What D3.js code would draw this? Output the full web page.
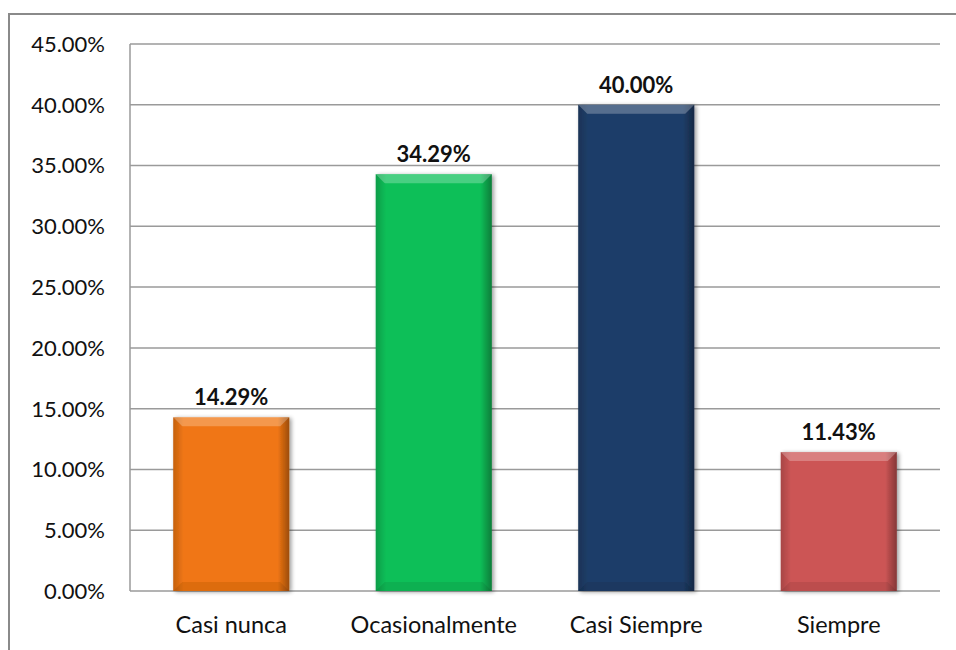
<!DOCTYPE html>
<html>
<head>
<meta charset="utf-8">
<script src="https://cdn.jsdelivr.net/npm/d3@7"></script>
<style>
  html, body { margin: 0; padding: 0; background: #fff; }
  svg { display: block; font-family: Lato, "Open Sans", sans-serif; }
</style>
</head>
<body>
<svg width="956" height="650"></svg>
<script>
const categories = ["Casi nunca", "Ocasionalmente", "Casi Siempre", "Siempre"];
const values = [14.29, 34.29, 40.00, 11.43];
const colors = ["#F07613", "#0CBF58", "#1F3E69", "#CC5555"];
const yTicks = [0, 5, 10, 15, 20, 25, 30, 35, 40, 45];

const plotL = 130, plotR = 940, plotT = 44, plotB = 591;

const svg = d3.select("svg");
const defs = svg.append("defs");

// outer frame (runs off the right and bottom edges)
svg.append("rect")
  .attr("x", 9).attr("y", 14)
  .attr("width", 960).attr("height", 660)
  .attr("fill", "none")
  .attr("stroke", "#8a8a8a")
  .attr("stroke-width", 2);

const x = d3.scaleBand()
  .domain(categories)
  .range([plotL, plotR])
  .paddingInner(0.427)
  .paddingOuter(0.2135);

const y = d3.scaleLinear()
  .domain([0, 45])
  .range([plotB, plotT]);

// grid lines
svg.append("g")
  .selectAll("line")
  .data(yTicks)
  .join("line")
  .attr("x1", plotL).attr("x2", plotR)
  .attr("y1", d => y(d)).attr("y2", d => y(d))
  .attr("stroke", "#9a9a9a")
  .attr("stroke-width", 1.5);

// left axis line
svg.append("line")
  .attr("x1", plotL).attr("x2", plotL)
  .attr("y1", plotT).attr("y2", plotB)
  .attr("stroke", "#9a9a9a")
  .attr("stroke-width", 1.5);

// y tick labels
svg.append("g")
  .selectAll("text")
  .data(yTicks)
  .join("text")
  .attr("x", 105)
  .attr("y", d => y(d))
  .attr("dy", "0.36em")
  .attr("text-anchor", "end")
  .attr("font-size", 22)
  .attr("fill", "#111")
  .text(d => d.toFixed(2) + "%");

// drop shadow
const shadow = defs.append("filter")
  .attr("id", "shadow")
  .attr("x", "-10%").attr("y", "-10%")
  .attr("width", "130%").attr("height", "130%");
shadow.append("feGaussianBlur")
  .attr("in", "SourceAlpha")
  .attr("stdDeviation", 2)
  .attr("result", "blur");
shadow.append("feOffset")
  .attr("dx", 2).attr("dy", 1)
  .attr("result", "off");
shadow.append("feComponentTransfer").append("feFuncA")
  .attr("type", "linear").attr("slope", 0.4);
const fm = shadow.append("feMerge");
fm.append("feMergeNode");
fm.append("feMergeNode").attr("in", "SourceGraphic");

// horizontal shading to darken bar sides
const side = defs.append("linearGradient")
  .attr("id", "side")
  .attr("x1", 0).attr("x2", 1).attr("y1", 0).attr("y2", 0);
side.append("stop").attr("offset", "0%").attr("stop-color", "#000").attr("stop-opacity", 0.18);
side.append("stop").attr("offset", "9%").attr("stop-color", "#000").attr("stop-opacity", 0);
side.append("stop").attr("offset", "90%").attr("stop-color", "#000").attr("stop-opacity", 0);
side.append("stop").attr("offset", "100%").attr("stop-color", "#000").attr("stop-opacity", 0.35);

const bev = 9;
const bars = svg.append("g")
  .selectAll("g")
  .data(values)
  .join("g")
  .attr("filter", "url(#shadow)");

bars.append("rect")
  .attr("x", (d, i) => x(categories[i]))
  .attr("y", d => y(d))
  .attr("width", x.bandwidth())
  .attr("height", d => y(0) - y(d))
  .attr("fill", (d, i) => colors[i]);

bars.append("rect")
  .attr("x", (d, i) => x(categories[i]))
  .attr("y", d => y(d))
  .attr("width", x.bandwidth())
  .attr("height", d => y(0) - y(d))
  .attr("fill", "url(#side)");

// top bevel (lighter)
bars.append("polygon")
  .attr("points", (d, i) => {
    const x0 = x(categories[i]), x1 = x0 + x.bandwidth(), yt = y(d);
    return [[x0, yt], [x1, yt], [x1 - bev, yt + bev], [x0 + bev, yt + bev]].join(" ");
  })
  .attr("fill", "#fff")
  .attr("fill-opacity", 0.25);

// bottom bevel (darker)
bars.append("polygon")
  .attr("points", (d, i) => {
    const x0 = x(categories[i]), x1 = x0 + x.bandwidth(), yb = y(0);
    return [[x0, yb], [x1, yb], [x1 - bev, yb - bev], [x0 + bev, yb - bev]].join(" ");
  })
  .attr("fill", "#000")
  .attr("fill-opacity", 0.08);

// value labels
svg.append("g")
  .selectAll("text")
  .data(values)
  .join("text")
  .attr("x", (d, i) => x(categories[i]) + x.bandwidth() / 2)
  .attr("y", d => y(d) - 12)
  .attr("text-anchor", "middle")
  .attr("font-size", 22)
  .attr("font-weight", "bold")
  .attr("fill", "#111")
  .text(d => d.toFixed(2) + "%");

// category labels
svg.append("g")
  .selectAll("text")
  .data(categories)
  .join("text")
  .attr("x", d => x(d) + x.bandwidth() / 2)
  .attr("y", 633)
  .attr("text-anchor", "middle")
  .attr("font-size", 23.5)
  .attr("fill", "#111")
  .text(d => d);
</script>
</body>
</html>
